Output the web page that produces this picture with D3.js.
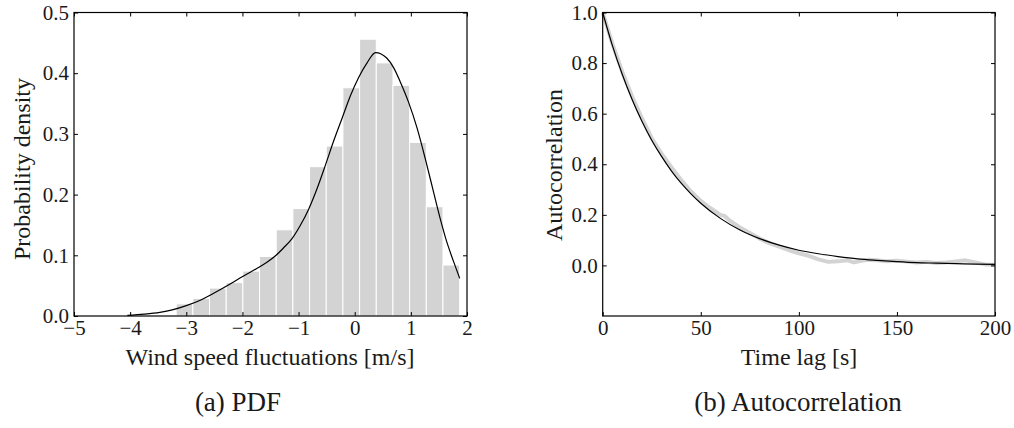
<!DOCTYPE html>
<html>
<head>
<meta charset="utf-8">
<script src="https://cdn.jsdelivr.net/npm/d3@7"></script>
<style>
    body { margin: 0; background: #fff; }
    svg { display: block; font-family: "Liberation Serif", "DejaVu Serif", serif; }
    .tick text { font-size: 21px; fill: #1a1a1a; }
    .axis-label { font-size: 24px; fill: #1a1a1a; }
    .caption { font-size: 27px; fill: #1a1a1a; }
</style>
</head>
<body>
<svg width="1014" height="428"></svg>
<script>
// histogram of wind speed fluctuations
const binStart = -3.18;
const binWidth = 0.297;
const binHeights = [0.020, 0.029, 0.046, 0.055, 0.074, 0.098, 0.142, 0.177, 0.246,
    0.280, 0.376, 0.456, 0.417, 0.380, 0.286, 0.180, 0.084];

// kernel density estimate
const kdeX = [-4.05, -3.75, -3.47, -3.25, -3.0, -2.75, -2.52, -2.25, -1.98, -1.75, -1.57,
    -1.4, -1.27, -1.12, -0.97, -0.82, -0.67, -0.52, -0.38, -0.22, -0.08, 0.07, 0.22,
    0.37, 0.57, 0.7, 0.81, 0.96, 1.11, 1.26, 1.41, 1.53, 1.64, 1.76, 1.87];
const kdeY = [0.001, 0.003, 0.006, 0.010, 0.017, 0.026, 0.037, 0.051, 0.066, 0.078, 0.088,
    0.100, 0.112, 0.127, 0.149, 0.176, 0.210, 0.249, 0.287, 0.327, 0.362, 0.393, 0.417,
    0.434, 0.425, 0.408, 0.386, 0.352, 0.310, 0.258, 0.202, 0.158, 0.122, 0.090, 0.062];

// autocorrelation, measured
const lagMeas = [0, 5, 10, 15, 20, 25, 30, 35, 40, 45, 50, 55, 60, 62, 65, 70, 75, 80, 85, 90,
    95, 100, 105, 110, 115, 120, 125, 128, 132, 135, 140, 145, 150, 155, 160, 165, 170,
    175, 180, 185, 190, 195, 200];
const acfMeas = [1.0, 0.875, 0.765, 0.668, 0.582, 0.503, 0.442, 0.388, 0.338, 0.292, 0.255,
    0.226, 0.200, 0.196, 0.176, 0.150, 0.128, 0.106, 0.088, 0.074, 0.060, 0.048, 0.038,
    0.024, 0.014, 0.016, 0.020, 0.012, 0.018, 0.022, 0.020, 0.016, 0.018, 0.015, 0.012,
    0.014, 0.010, 0.012, 0.016, 0.020, 0.012, 0.004, 0.003];

// autocorrelation, exponential fit
const lagFit = [0, 5, 10, 15, 20, 25, 30, 35, 40, 45, 50, 60, 70, 80, 90, 100, 110, 120, 130,
    140, 150, 160, 170, 180, 190, 200];
const acfFit = [1.0, 0.868, 0.755, 0.656, 0.570, 0.495, 0.431, 0.374, 0.325, 0.283, 0.246,
    0.186, 0.140, 0.106, 0.080, 0.060, 0.046, 0.035, 0.026, 0.020, 0.015, 0.011, 0.009,
    0.007, 0.005, 0.004];

const pdfXTicks = [-5, -4, -3, -2, -1, 0, 1, 2];
const pdfYTicks = [0, 0.1, 0.2, 0.3, 0.4, 0.5];
const acfXTicks = [0, 50, 100, 150, 200];
const acfYTicks = [0, 0.2, 0.4, 0.6, 0.8, 1.0];

const svg = d3.select("svg");
const plotTop = 12.5, plotBottom = 316;
const tickLen = 4;

function frame(g, x, y, xTicks, yTicks, xFmt, yFmt) {
    const [x0, x1] = x.range();
    const [y0, y1] = y.range();
    g.append("g")
        .attr("transform", `translate(0,${y0})`)
        .call(d3.axisBottom(x).tickValues(xTicks).tickFormat(xFmt).tickSizeInner(-tickLen).tickSizeOuter(0).tickPadding(4))
        .call(a => a.select(".domain").remove());
    g.append("g")
        .attr("transform", `translate(0,${y1})`)
        .call(d3.axisTop(x).tickValues(xTicks).tickFormat("").tickSizeInner(-tickLen).tickSizeOuter(0))
        .call(a => a.select(".domain").remove());
    g.append("g")
        .attr("transform", `translate(${x0},0)`)
        .call(d3.axisLeft(y).tickValues(yTicks).tickFormat(yFmt).tickSizeInner(-tickLen).tickSizeOuter(0).tickPadding(5))
        .call(a => a.select(".domain").remove());
    g.append("g")
        .attr("transform", `translate(${x1},0)`)
        .call(d3.axisRight(y).tickValues(yTicks).tickFormat("").tickSizeInner(-tickLen).tickSizeOuter(0))
        .call(a => a.select(".domain").remove());
    g.selectAll(".tick line").attr("stroke", "#000");
    g.selectAll("g").attr("font-family", null).attr("font-size", null);
    g.append("rect")
        .attr("x", x0).attr("y", y1)
        .attr("width", x1 - x0).attr("height", y0 - y1)
        .attr("fill", "none").attr("stroke", "#000").attr("stroke-width", 1.2);
}

// (a) PDF
const xA = d3.scaleLinear().domain([-5, 2]).range([74, 467]);
const yA = d3.scaleLinear().domain([0, 0.5]).range([plotBottom, plotTop]);
const gA = svg.append("g");

gA.selectAll("rect.bar")
    .data(binHeights)
    .join("rect")
    .attr("class", "bar")
    .attr("x", (d, i) => xA(binStart + i * binWidth))
    .attr("width", xA(binStart + binWidth) - xA(binStart))
    .attr("y", d => yA(d))
    .attr("height", d => yA(0) - yA(d))
    .attr("fill", "#d3d3d3")
    .attr("stroke", "#fff")
    .attr("stroke-width", 1);

gA.append("path")
    .datum(d3.zip(kdeX, kdeY))
    .attr("fill", "none")
    .attr("stroke", "#000")
    .attr("stroke-width", 1.2)
    .attr("d", d3.line().x(d => xA(d[0])).y(d => yA(d[1])).curve(d3.curveMonotoneX));

frame(gA, xA, yA, pdfXTicks, pdfYTicks, d3.format("d"), d3.format(".1f"));

gA.append("text")
    .attr("class", "axis-label")
    .attr("x", 270).attr("y", 365)
    .attr("text-anchor", "middle")
    .text("Wind speed fluctuations [m/s]");

gA.append("text")
    .attr("class", "axis-label")
    .attr("transform", "rotate(-90)")
    .attr("x", -169).attr("y", 30)
    .attr("text-anchor", "middle")
    .text("Probability density");

gA.append("text")
    .attr("class", "caption")
    .attr("x", 238).attr("y", 411)
    .attr("text-anchor", "middle")
    .text("(a) PDF");

// (b) Autocorrelation
const xB = d3.scaleLinear().domain([0, 200]).range([602.7, 995]);
const yB = d3.scaleLinear().domain([-0.2, 1.0]).range([plotBottom, plotTop]);
const gB = svg.append("g");

gB.append("path")
    .datum(d3.zip(lagMeas, acfMeas))
    .attr("fill", "none")
    .attr("stroke", "#d3d3d3")
    .attr("stroke-width", 4)
    .attr("stroke-linejoin", "round")
    .attr("d", d3.line().x(d => xB(d[0])).y(d => yB(d[1])));

gB.append("path")
    .datum(d3.zip(lagFit, acfFit))
    .attr("fill", "none")
    .attr("stroke", "#000")
    .attr("stroke-width", 1.2)
    .attr("d", d3.line().x(d => xB(d[0])).y(d => yB(d[1])).curve(d3.curveMonotoneX));

frame(gB, xB, yB, acfXTicks, acfYTicks, d3.format("d"), d3.format(".1f"));

gB.append("text")
    .attr("class", "axis-label")
    .attr("x", 799).attr("y", 365)
    .attr("text-anchor", "middle")
    .text("Time lag [s]");

gB.append("text")
    .attr("class", "axis-label")
    .attr("transform", "rotate(-90)")
    .attr("x", -165).attr("y", 562)
    .attr("text-anchor", "middle")
    .text("Autocorrelation");

gB.append("text")
    .attr("class", "caption")
    .attr("x", 798).attr("y", 411)
    .attr("text-anchor", "middle")
    .text("(b) Autocorrelation");
</script>
</body>
</html>
